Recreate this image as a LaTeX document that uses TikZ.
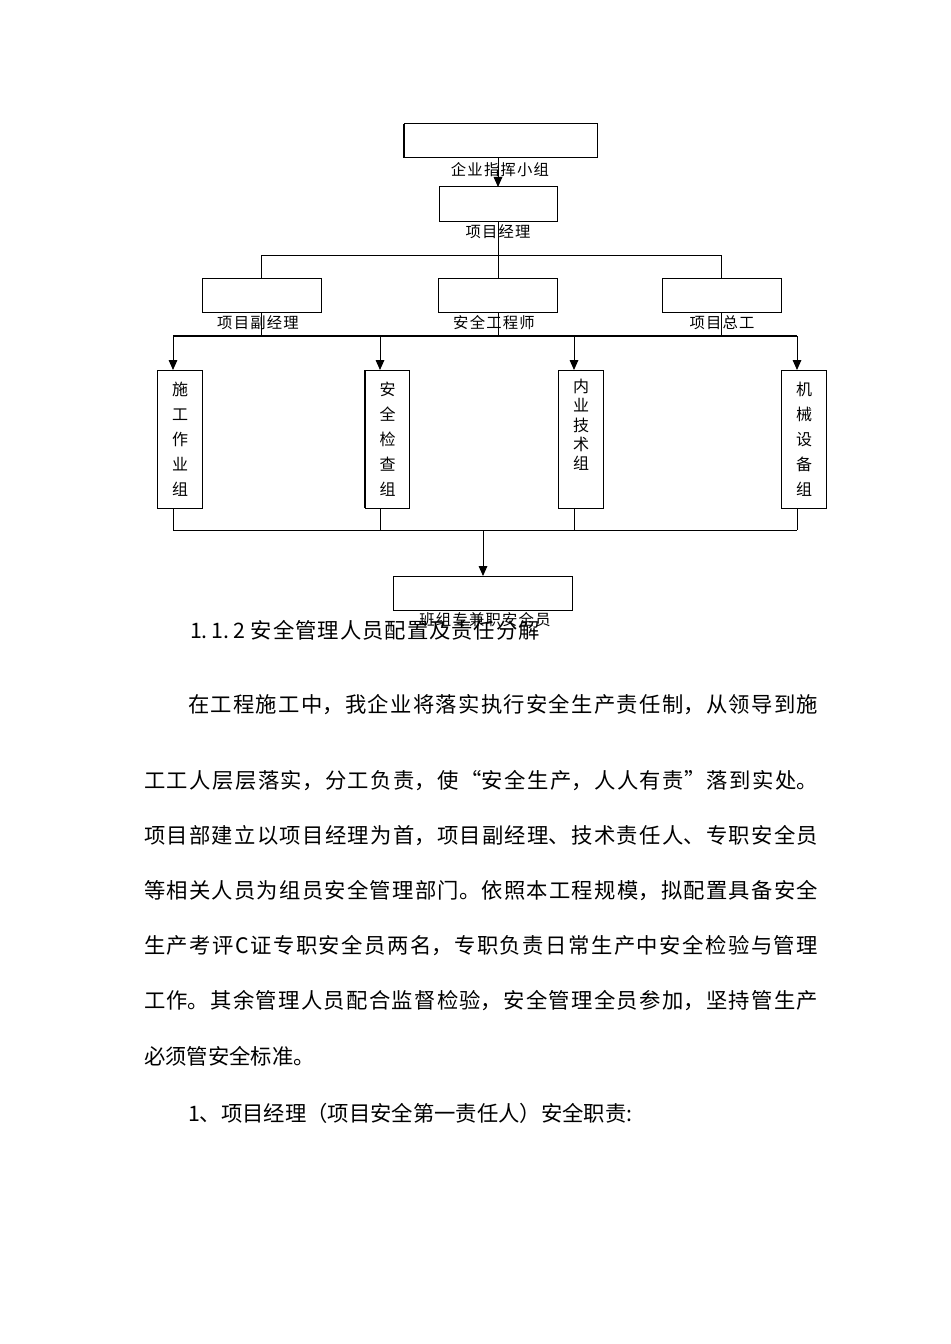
\documentclass[tikz,border=0pt]{standalone}
\usepackage{fontspec}
\setmainfont{Noto Sans CJK SC}
\newfontfamily\labfam{Noto Sans CJK SC}[LetterSpace=8]
\newcommand\labfont{\labfam\fontsize{11.5}{13}\selectfont}
\newcommand\bodyfont{\fontsize{16}{19}\selectfont}
\usetikzlibrary{arrows.meta}
\XeTeXlinebreaklocale "zh"
\XeTeXlinebreakskip=0pt plus 1fil
\begin{document}
\begin{tikzpicture}[x=0.75pt,y=-0.75pt,
  every node/.style={inner sep=0pt, outer sep=0pt},
  box/.style={draw, line width=0.75pt},
  hbox/.style={box, minimum height=25.5pt},
  vbox/.style={box, minimum width=33.375pt, minimum height=103.5pt, align=center, font=\fontsize{12}{18.75}\selectfont},
  lab/.style={font=\labfont},
  ln/.style={line width=0.75pt},
  bus/.style={line width=1.6pt},
  thickside/.style={line width=1.8pt},
  arr/.style={ln, -{Triangle[length=7.5pt,width=6.5pt]}},
  para/.style={anchor=west, align=justify, font=\bodyfont},
  plain/.style={anchor=west, font=\bodyfont}]
\fill[white] (0,0) rectangle (950,1344);
\useasboundingbox (0,0) rectangle (950,1344);

% boxes
\node[hbox, minimum width=144.75pt] (top) at (500.5,141) {};
\node[hbox, minimum width=88.5pt, minimum height=26.25pt] (pm) at (498,204.5) {};
\node[hbox, minimum width=89.25pt] (vp) at (261.5,296) {};
\node[hbox, minimum width=89.25pt] (se) at (498,296) {};
\node[hbox, minimum width=89.25pt] (ce) at (721.5,296) {};
\node[vbox] (g1) at (180,439) {施\\工\\作\\业\\组};
\node[vbox] (g2) at (387.5,439) {安\\全\\检\\查\\组};
\node[vbox] (g3) at (581,439) {};
\node[align=center, font=\fontsize{12}{14.5}\selectfont] (g3t) at (581,425) {内\\业\\技\\术\\组};
\node[vbox] (g4) at (804,439) {机\\械\\设\\备\\组};
\node[hbox, minimum width=134.25pt] (bz) at (482.5,593) {};

\draw[thickside] (top.north west) -- (top.south west);
\draw[thickside] (g2.north west) -- (g2.south west);

% labels
\node[lab] (ltop) at (500,170) {企业指挥小组};
\node[lab] (lpm) at (498,232) {项目经理};
\node[lab] (lvp) at (258,323) {项目副经理};
\node[lab] (lse) at (494,323) {安全工程师};
\node[lab] (lce) at (722,323) {项目总工};
\node[lab] (lbz) at (485,620) {班组专兼职安全员};

% connectors
\draw[arr] (pm.north |- top.south) -- (pm.north);
\coordinate (j) at (498,256);
\draw[ln] (pm.south) -- (j);
\draw[ln] (vp.north) -- (vp.north |- j) -- (ce.north |- j) -- (ce.north);
\draw[ln] (j) -- (se.north);

\coordinate (b1) at (173,336);
\coordinate (b2) at (380,336);
\coordinate (b3) at (574,336);
\coordinate (b4) at (797,336);
\draw[ln] (vp.south) -- (vp.south |- b1);
\draw[ln] (se.south) -- (se.south |- b1);
\draw[ln] (ce.south) -- (ce.south |- b1);
\draw[bus] (b1) -- (b4);
\draw[arr] (b1) -- (b1 |- g1.north);
\draw[arr] (b2) -- (b2 |- g2.north);
\draw[arr] (b3) -- (b3 |- g3.north);
\draw[arr] (b4) -- (b4 |- g4.north);

\coordinate (c1) at (173,530);
\coordinate (c4) at (797,530);
\coordinate (c5) at (483,530);
\draw[ln] (b1 |- g1.south) -- (c1);
\draw[ln] (b2 |- g2.south) -- (b2 |- c1);
\draw[ln] (b3 |- g3.south) -- (b3 |- c1);
\draw[ln] (b4 |- g4.south) -- (c4);
\draw[ln] (c1) -- (c4);
\draw[arr] (c5) -- (c5 |- bz.north);

% text
\node[para, text width=262.5pt] (h) at (190,630) {\noindent\parfillskip=0pt 1.\hspace{3pt}1.\hspace{3pt}2\hspace{4pt}安全管理人员配置及责任分解\par};
\node[para, text width=472.5pt] (p1) at (188,705) {\noindent\parfillskip=0pt 在工程施工中，我企业将落实执行安全生产责任制，从领导到施\par};
\node[para, text width=505.5pt] (p2) at (144,781) {\noindent\parfillskip=0pt 工工人层层落实，分工负责，使“安全生产，人人有责”落到实处。\par};
\node[para, text width=505.5pt] (p3) at (144,836) {\noindent\parfillskip=0pt 项目部建立以项目经理为首，项目副经理、技术责任人、专职安全员\par};
\node[para, text width=505.5pt] (p4) at (144,891) {\noindent\parfillskip=0pt 等相关人员为组员安全管理部门。依照本工程规模，拟配置具备安全\par};
\node[para, text width=505.5pt] (p5) at (144,946) {\noindent\parfillskip=0pt 生产考评C证专职安全员两名，专职负责日常生产中安全检验与管理\par};
\node[para, text width=505.5pt] (p6) at (144,1001) {\noindent\parfillskip=0pt 工作。其余管理人员配合监督检验，安全管理全员参加，坚持管生产\par};
\node[plain] (p7) at (144,1056) {必须管安全标准。};
\node[plain] (p8) at (188,1113) {1、项目经理（项目安全第一责任人）安全职责:};
\end{tikzpicture}
\end{document}
